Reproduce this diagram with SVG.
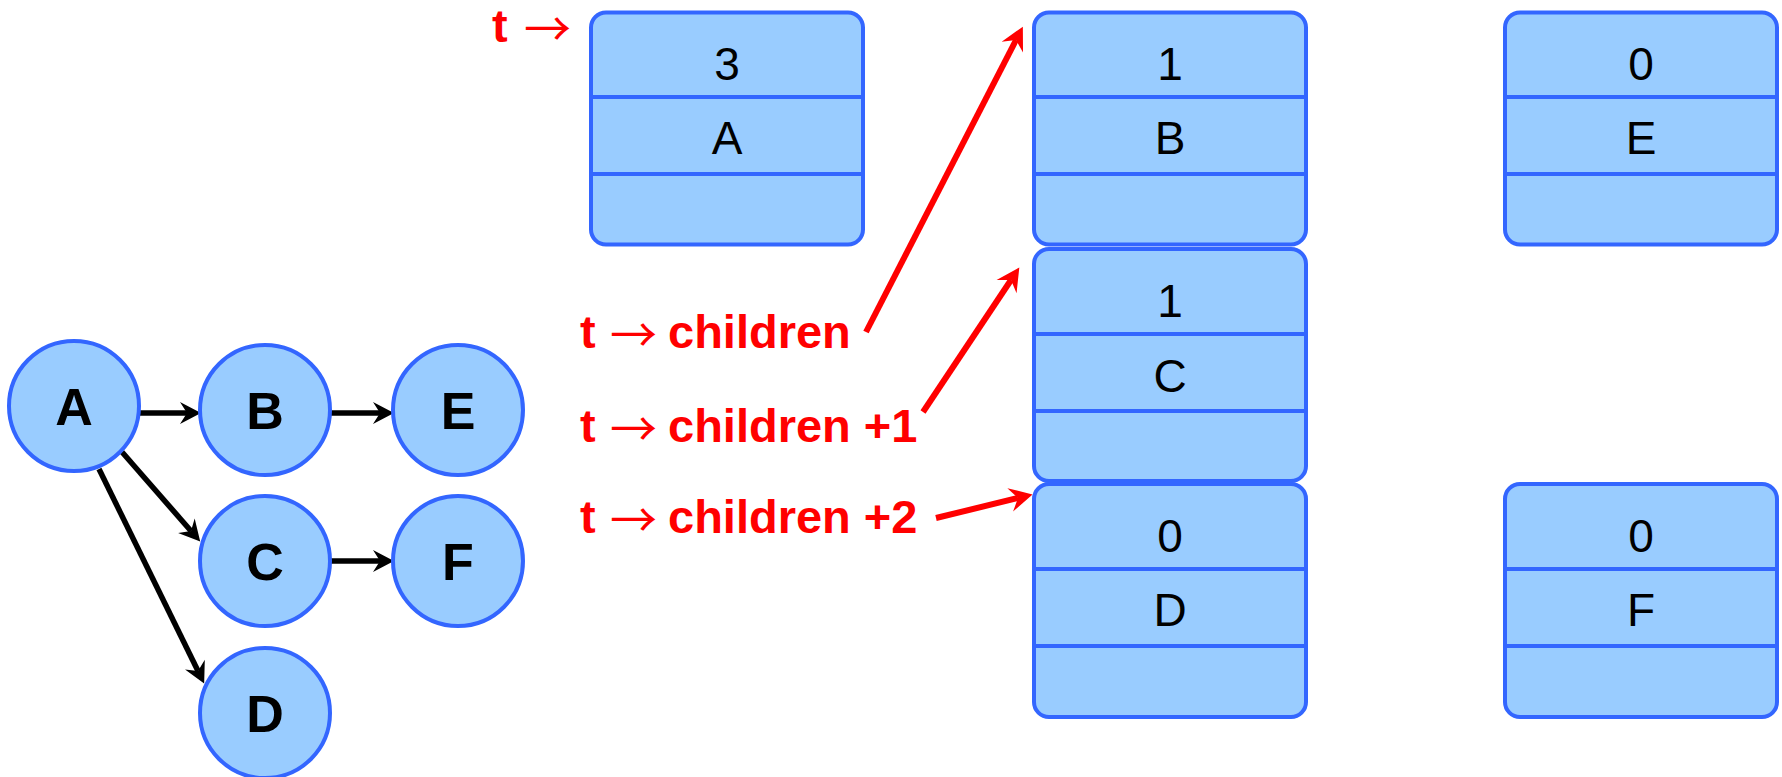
<svg xmlns="http://www.w3.org/2000/svg" width="1782" height="777" viewBox="0 0 1782 777">
<style>
.box{fill:#99CCFF;stroke:#3366FF;stroke-width:4}
.div{stroke:#3366FF;stroke-width:4}
.circ{fill:#99CCFF;stroke:#3366FF;stroke-width:4}
.bt{font-family:"Liberation Sans",Arial,sans-serif;font-size:46px;fill:#000;text-anchor:middle}
.ct{font-family:"Liberation Sans",Arial,sans-serif;font-size:52px;font-weight:bold;fill:#000;text-anchor:middle}
.rt{font-family:"Liberation Sans",Arial,sans-serif;font-size:47px;font-weight:bold;fill:#FF0000}
.ar{font-family:"Noto Sans CJK SC","Liberation Sans",sans-serif;font-weight:normal;font-size:47px}
.blk{stroke:#000;stroke-width:5.5;fill:none}
.red{stroke:#FF0000;stroke-width:6;fill:none}
</style>
<defs>
<marker id="mb" viewBox="-8 -12 24 24" markerWidth="24" markerHeight="24" refX="0" refY="0" orient="auto" markerUnits="userSpaceOnUse">
<path d="M14,0 L-7,-11 L0,0 L-7,11 Z" fill="#000"/>
</marker>
<marker id="mr" viewBox="-9 -13 26 26" markerWidth="26" markerHeight="26" refX="0" refY="0" orient="auto" markerUnits="userSpaceOnUse">
<path d="M15,0 L-8,-12 L0,0 L-8,12 Z" fill="#FF0000"/>
</marker>
</defs>

<g id="connectors">
<line class="blk" x1="139" y1="413" x2="187" y2="413" marker-end="url(#mb)"/>
<line class="blk" x1="330" y1="413" x2="380" y2="413" marker-end="url(#mb)"/>
<line class="blk" x1="330" y1="561" x2="380" y2="561" marker-end="url(#mb)"/>
<line class="blk" x1="122" y1="452" x2="191" y2="531" marker-end="url(#mb)"/>
<line class="blk" x1="99" y1="469" x2="198" y2="671" marker-end="url(#mb)"/>
<line class="red" x1="866" y1="332" x2="1016" y2="40" marker-end="url(#mr)"/>
<line class="red" x1="923" y1="412" x2="1011" y2="280" marker-end="url(#mr)"/>
<line class="red" x1="936" y1="518" x2="1018" y2="498" marker-end="url(#mr)"/>
</g>

<g id="nodeA">
<circle class="circ" cx="74" cy="406" r="65"/>
<text class="ct" x="74" y="425">A</text>
</g>
<g id="nodeB">
<circle class="circ" cx="265" cy="410" r="65"/>
<text class="ct" x="265" y="429">B</text>
</g>
<g id="nodeE">
<circle class="circ" cx="458" cy="410" r="65"/>
<text class="ct" x="458" y="429">E</text>
</g>
<g id="nodeC">
<circle class="circ" cx="265" cy="561" r="65"/>
<text class="ct" x="265" y="580">C</text>
</g>
<g id="nodeF">
<circle class="circ" cx="458" cy="561" r="65"/>
<text class="ct" x="458" y="580">F</text>
</g>
<g id="nodeD">
<circle class="circ" cx="265" cy="713" r="65"/>
<text class="ct" x="265" y="732">D</text>
</g>

<g id="boxA">
<rect class="box" x="591" y="12.5" width="272" height="232" rx="15"/>
<line class="div" x1="591" y1="97" x2="863" y2="97"/>
<line class="div" x1="591" y1="174" x2="863" y2="174"/>
<text class="bt" x="727" y="80">3</text>
<text class="bt" x="727" y="154">A</text>
</g>
<g id="boxB">
<rect class="box" x="1034" y="12.5" width="272" height="232" rx="15"/>
<line class="div" x1="1034" y1="97" x2="1306" y2="97"/>
<line class="div" x1="1034" y1="174" x2="1306" y2="174"/>
<text class="bt" x="1170" y="80">1</text>
<text class="bt" x="1170" y="154">B</text>
</g>
<g id="boxE">
<rect class="box" x="1505" y="12.5" width="272" height="232" rx="15"/>
<line class="div" x1="1505" y1="97" x2="1777" y2="97"/>
<line class="div" x1="1505" y1="174" x2="1777" y2="174"/>
<text class="bt" x="1641" y="80">0</text>
<text class="bt" x="1641" y="154">E</text>
</g>
<g id="boxC">
<rect class="box" x="1034" y="249" width="272" height="232" rx="15"/>
<line class="div" x1="1034" y1="334" x2="1306" y2="334"/>
<line class="div" x1="1034" y1="411" x2="1306" y2="411"/>
<text class="bt" x="1170" y="317">1</text>
<text class="bt" x="1170" y="392">C</text>
</g>
<g id="boxD">
<rect class="box" x="1034" y="484" width="272" height="233" rx="15"/>
<line class="div" x1="1034" y1="569" x2="1306" y2="569"/>
<line class="div" x1="1034" y1="646" x2="1306" y2="646"/>
<text class="bt" x="1170" y="552">0</text>
<text class="bt" x="1170" y="626">D</text>
</g>
<g id="boxF">
<rect class="box" x="1505" y="484" width="272" height="233" rx="15"/>
<line class="div" x1="1505" y1="569" x2="1777" y2="569"/>
<line class="div" x1="1505" y1="646" x2="1777" y2="646"/>
<text class="bt" x="1641" y="552">0</text>
<text class="bt" x="1641" y="626">F</text>
</g>

<g id="labels">
<text class="rt" x="492" y="42">t</text>
<text class="rt" x="524" y="46"><tspan class="ar">→</tspan></text>
<text class="rt" x="580" y="348">t<tspan class="ar" x="610" y="352">→</tspan><tspan x="668" y="348">children</tspan></text>
<text class="rt" x="580" y="442">t<tspan class="ar" x="610" y="446">→</tspan><tspan x="668" y="442">children +1</tspan></text>
<text class="rt" x="580" y="533">t<tspan class="ar" x="610" y="537">→</tspan><tspan x="668" y="533">children +2</tspan></text>
</g>
</svg>
